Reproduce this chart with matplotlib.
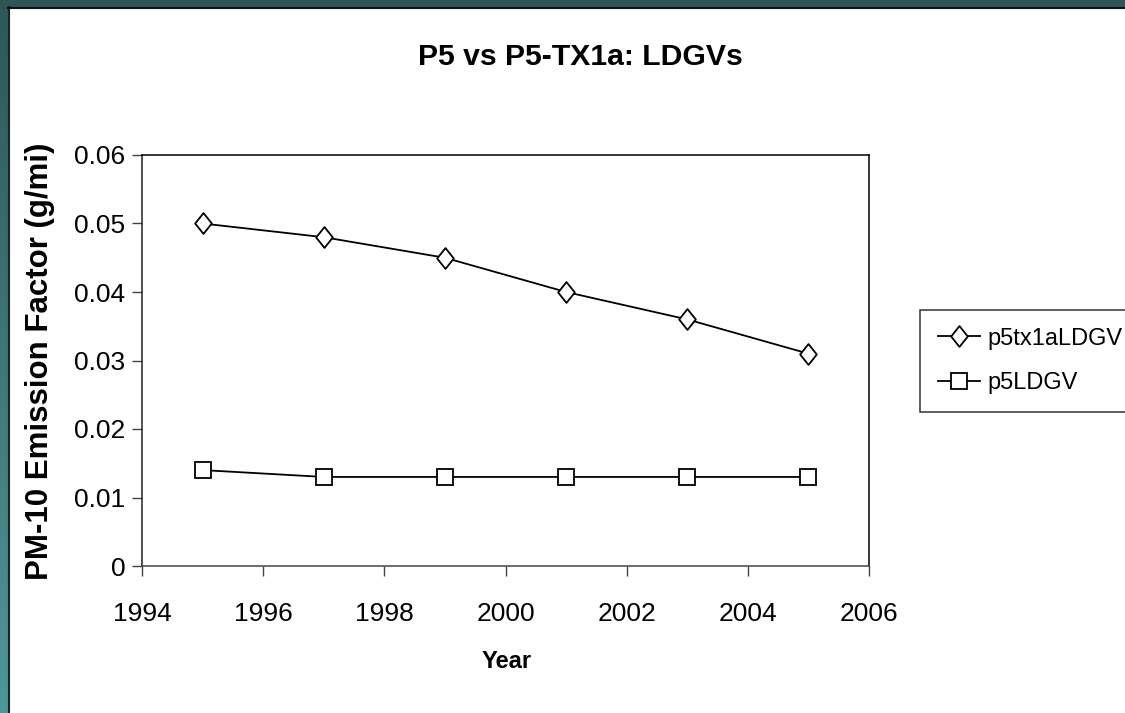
import numpy as np
import matplotlib.pyplot as plt
from matplotlib.patches import Rectangle
from matplotlib.path import Path
from matplotlib.colors import LinearSegmentedColormap

years = [1995, 1997, 1999, 2001, 2003, 2005]
p5tx1a = [0.050, 0.048, 0.045, 0.040, 0.036, 0.031]
p5 = [0.014, 0.013, 0.013, 0.013, 0.013, 0.013]

plt.rcParams['font.family'] = ['Liberation Sans', 'DejaVu Sans']

fig = plt.figure(figsize=(11.25, 7.13), dpi=100)
W, H = 1125, 713

# teal frame: top band and left gradient band
top = Rectangle((0, 1 - 7 / H), 1, 7 / H, transform=fig.transFigure,
                facecolor='#2f5555', edgecolor='none', zorder=0)
fig.patches.append(top)
grad = np.linspace(0, 1, 256).reshape(-1, 1)
cmap = LinearSegmentedColormap.from_list('teal', ['#2f5656', '#4f9696'])
bax = fig.add_axes([0, 0, 8 / W, 1], zorder=0)
bax.imshow(grad, aspect='auto', cmap=cmap, origin='upper')
bax.axis('off')
fig.add_artist(plt.Line2D([8.5 / W, 8.5 / W], [0, 1 - 7 / H], transform=fig.transFigure,
                          color='#222222', lw=1.5))
fig.add_artist(plt.Line2D([8 / W, 1], [1 - 7.5 / H, 1 - 7.5 / H], transform=fig.transFigure,
                          color='#111111', lw=1.5))

diamond = Path([(0, 1), (0.8, 0), (0, -1), (-0.8, 0), (0, 1)],
               [Path.MOVETO, Path.LINETO, Path.LINETO, Path.LINETO, Path.CLOSEPOLY])

ax = fig.add_axes([142 / W, 1 - 566 / H, (869 - 142) / W, (566 - 155) / H])
ax.plot(years, p5tx1a, color='black', lw=1.3, marker=diamond, markersize=15,
        markerfacecolor='white', markeredgecolor='black', markeredgewidth=1.3,
        label='p5tx1aLDGV', clip_on=False)
ax.plot(years, p5, color='black', lw=1.3, marker='s', markersize=12,
        markerfacecolor='white', markeredgecolor='black', markeredgewidth=1.3,
        label='p5LDGV', clip_on=False)

ax.set_xlim(1994, 2006)
ax.set_ylim(0, 0.06)
ax.set_xticks(range(1994, 2007, 2))
ax.set_yticks([0, 0.01, 0.02, 0.03, 0.04, 0.05, 0.06])
ax.set_yticklabels(['0', '0.01', '0.02', '0.03', '0.04', '0.05', '0.06'])
ax.tick_params(axis='both', labelsize=19, direction='out', length=7, width=1,
               color='#444444')
ax.tick_params(axis='x', pad=19)
ax.tick_params(axis='y', pad=5)
for s in ax.spines.values():
    s.set_linewidth(1.1)
ax.spines['bottom'].set_color('#444444')
ax.spines['left'].set_color('#222222')

fig.text(507 / W, 1 - 662 / H, 'Year', fontsize=17, fontweight='bold',
         ha='center', va='center')
fig.text(40 / W, 1 - 361 / H, 'PM-10 Emission Factor (g/mi)', fontsize=22.5,
         fontweight='bold', rotation=90, ha='center', va='center')
fig.text(580 / W, 1 - 57 / H, 'P5 vs P5-TX1a: LDGVs', fontsize=21.7, fontweight='bold',
         ha='center', va='center')

leg = ax.legend(loc='upper left', bbox_to_anchor=(920 / W, 1 - 310 / H),
                bbox_transform=fig.transFigure, fontsize=17, frameon=True,
                fancybox=False, edgecolor='black', handlelength=1.8,
                handletextpad=0.3, borderpad=0.75, labelspacing=0.95,
                borderaxespad=0)
leg.get_frame().set_linewidth(1.1)

fig.savefig('out.png', dpi=100)
